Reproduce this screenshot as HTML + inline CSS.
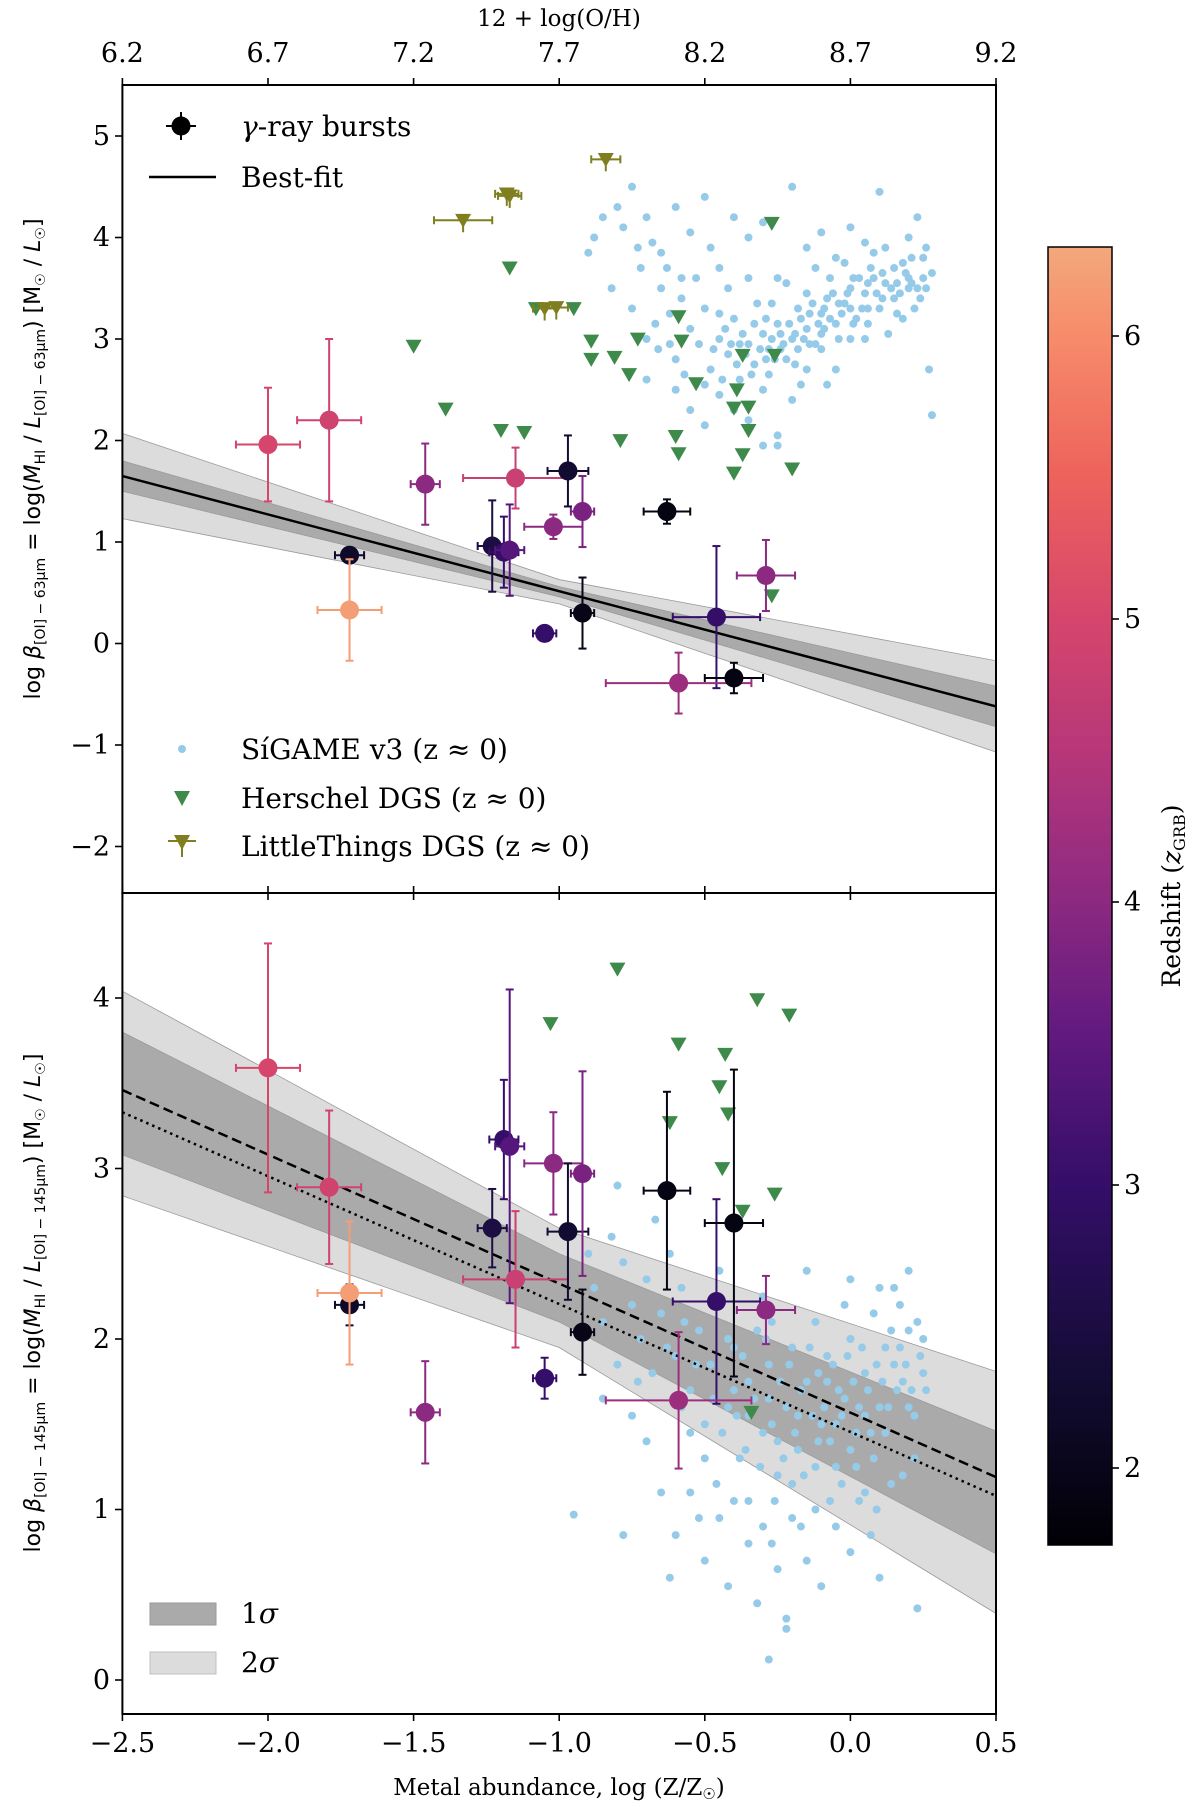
<!DOCTYPE html>
<html><head><meta charset="utf-8"><style>
html,body{margin:0;padding:0;background:#fff;}
svg{display:block;font-family:"DejaVu Serif","Liberation Serif",serif;}
</style></head><body>
<svg id="fig" width="1200" height="1807" viewBox="0 0 1200 1807" xmlns="http://www.w3.org/2000/svg">
<defs>
<linearGradient id="magma" x1="0" y1="1" x2="0" y2="0"></linearGradient>
<clipPath id="clipTop"><rect x="122" y="85" width="874" height="808"/></clipPath>
<clipPath id="clipBot"><rect x="122" y="893" width="874" height="821"/></clipPath>
</defs>
<g id="topPanel" clip-path="url(#clipTop)"></g>
<g id="botPanel" clip-path="url(#clipBot)"></g>
<g id="axes"></g>
<g id="cbar"></g>

<g font-family="DejaVu Serif, Liberation Serif, serif">
<text x="559" y="26" font-size="23" text-anchor="middle">12 + log(O/H)</text>
<text x="559" y="1795" font-size="23" text-anchor="middle">Metal abundance, log (Z/Z<tspan font-size="15" dy="4">☉</tspan><tspan dy="-4">)</tspan></text>
<text transform="translate(40,459) rotate(-90)" font-size="22" text-anchor="middle" font-family="DejaVu Sans, Liberation Sans, sans-serif">log <tspan font-style="italic">β</tspan><tspan font-size="14" dy="5">[OI] − 63μm</tspan><tspan dy="-5"> = log(</tspan><tspan font-style="italic">M</tspan><tspan font-size="14" dy="5">HI</tspan><tspan dy="-5"> / </tspan><tspan font-style="italic">L</tspan><tspan font-size="14" dy="5">[OI] − 63μm</tspan><tspan dy="-5">)   [M</tspan><tspan font-size="14" dy="5">☉</tspan><tspan dy="-5"> / </tspan><tspan font-style="italic">L</tspan><tspan font-size="14" dy="5">☉</tspan><tspan dy="-5">]</tspan></text>
<text transform="translate(40,1303) rotate(-90)" font-size="22" text-anchor="middle" font-family="DejaVu Sans, Liberation Sans, sans-serif">log <tspan font-style="italic">β</tspan><tspan font-size="14" dy="5">[OI] − 145μm</tspan><tspan dy="-5"> = log(</tspan><tspan font-style="italic">M</tspan><tspan font-size="14" dy="5">HI</tspan><tspan dy="-5"> / </tspan><tspan font-style="italic">L</tspan><tspan font-size="14" dy="5">[OI] − 145μm</tspan><tspan dy="-5">)   [M</tspan><tspan font-size="14" dy="5">☉</tspan><tspan dy="-5"> / </tspan><tspan font-style="italic">L</tspan><tspan font-size="14" dy="5">☉</tspan><tspan dy="-5">]</tspan></text>
<text transform="translate(1180,896) rotate(-90)" font-size="25" text-anchor="middle">Redshift (<tspan font-style="italic">z</tspan><tspan font-size="16" dy="5">GRB</tspan><tspan dy="-5">)</tspan></text>
</g>
<g font-family="DejaVu Serif, Liberation Serif, serif" font-size="28">
<g>
<line x1="166" y1="126" x2="196" y2="126" stroke="#000" stroke-width="2"/><line x1="181" y1="112" x2="181" y2="140" stroke="#000" stroke-width="2"/><circle cx="181" cy="126" r="9.5" fill="#000"/>
<text x="241" y="136"><tspan font-style="italic">γ</tspan>-ray bursts</text></g>
<g><line x1="149" y1="177" x2="216" y2="177" stroke="#000" stroke-width="2.5"/><text x="241" y="187">Best-fit</text></g>
<g><circle cx="182" cy="749" r="4" fill="#95cbe9"/><text x="241" y="759">SíGAME v3 (z ≈ 0)</text></g>
<g><polygon points="174,791 190,791 182,806" fill="#3e8a4a"/><text x="241" y="808">Herschel DGS (z ≈ 0)</text></g>
<g><line x1="168" y1="841" x2="196" y2="841" stroke="#7f7f1f" stroke-width="2"/><line x1="182" y1="841" x2="182" y2="857" stroke="#7f7f1f" stroke-width="2"/><polygon points="174,835 190,835 182,850" fill="#7f7f1f"/><text x="241" y="856">LittleThings DGS (z ≈ 0)</text></g>
</g>
<g font-family="DejaVu Serif, Liberation Serif, serif" font-size="28">
<g><rect x="150" y="1603" width="66" height="22" fill="#aaaaaa" stroke="#9a9a9a"/><text x="241" y="1623">1<tspan font-style="italic">σ</tspan></text></g>
<g><rect x="150" y="1652" width="66" height="22" fill="#dcdcdc" stroke="#c0c0c0"/><text x="241" y="1672">2<tspan font-style="italic">σ</tspan></text></g>
</g>
</svg>
<script>
// ---------- data ----------
const grbX = [-2.0,-1.79,-1.72,-1.72,-1.46,-1.23,-1.19,-1.17,-1.15,-1.02,-0.97,-0.92,-1.05,-0.92,-0.63,-0.46,-0.59,-0.40,-0.29];
const grbZ = [5.0,4.9,2.2,6.2,4.0,2.5,3.0,3.4,4.8,4.0,2.3,3.8,3.0,1.95,1.9,3.0,4.2,1.9,4.0];
const grbXerr = [0.11,0.11,0.05,0.11,0.05,0.05,0.05,0.05,0.18,0.1,0.07,0.04,0.04,0.04,0.08,0.15,0.25,0.1,0.1];
const topY = [1.96,2.2,0.87,0.33,1.57,0.96,0.9,0.92,1.63,1.15,1.70,1.30,0.10,0.30,1.30,0.26,-0.39,-0.34,0.67];
const topYerr = [0.56,0.8,0.06,0.5,0.4,0.45,0.35,0.45,0.3,0.12,0.35,0.35,0.06,0.35,0.12,0.7,0.3,0.15,0.35];
const botY = [3.59,2.89,2.2,2.27,1.57,2.65,3.17,3.13,2.35,3.03,2.63,2.97,1.77,2.04,2.87,2.22,1.64,2.68,2.17];
const botYerr = [0.73,0.45,0.12,0.42,0.3,0.23,0.35,0.92,0.4,0.3,0.4,0.6,0.12,0.25,0.58,0.6,0.4,0.9,0.2];

const herTopX = [-1.5,-1.39,-1.17,-1.2,-1.12,-1.08,-0.95,-0.89,-0.89,-0.81,-0.79,-0.73,-0.76,-0.59,-0.58,-0.6,-0.59,-0.53,-0.39,-0.4,-0.37,-0.35,-0.37,-0.4,-0.35,-0.27,-0.26,-0.2,-0.27];
const herTopY = [2.93,2.31,3.70,2.1,2.08,3.3,3.3,2.8,2.98,2.82,2.0,3.0,2.65,3.22,2.98,2.04,1.87,2.56,2.5,2.32,2.84,2.33,1.86,1.68,2.1,4.14,2.84,1.72,0.47];
const ltX = [-1.33,-1.17,-1.18,-1.05,-1.01,-0.84];
const ltY = [4.17,4.41,4.43,3.3,3.31,4.77];
const ltXerr = [0.1,0.04,0.04,0.04,0.04,0.05];
const herBotX = [-1.03,-0.8,-0.59,-0.43,-0.45,-0.42,-0.44,-0.37,-0.26,-0.32,-0.21,-0.62,-0.34];
const herBotY = [3.85,4.17,3.73,3.67,3.48,3.32,3.0,2.75,2.85,3.99,3.90,3.27,1.57];

const sgTop = [[-0.75,4.5],[-0.78,4.1],[-0.7,4.2],[-0.68,3.95],[-0.72,3.7],[-0.65,3.85],[-0.6,4.3],[-0.55,4.05],[-0.58,3.6],[-0.5,4.4],[-0.48,3.9],[-0.45,3.7],[-0.4,4.2],[-0.35,4.0],[-0.3,4.15],[-0.25,3.6],[-0.2,4.5],[-0.15,3.9],[-0.1,4.05],[-0.05,3.8],[0,4.1],[0.05,3.95],[0.1,4.45],[0.15,3.7],[0.2,4.0],[0.25,3.8],[0.28,3.65],[-0.85,4.2],[-0.9,3.85],[-0.82,3.5],[-0.75,3.3],[-0.7,3.0],[-0.66,2.9],[-0.62,3.25],[-0.6,2.8],[-0.55,3.1],[-0.52,2.95],[-0.5,3.3],[-0.48,2.7],[-0.45,3.0],[-0.42,2.85],[-0.4,3.2],[-0.38,2.6],[-0.35,2.95],[-0.33,2.75],[-0.3,3.05],[-0.28,2.9],[-0.25,3.15],[-0.22,2.8],[-0.2,3.0],[-0.18,3.3],[-0.15,3.1],[-0.12,2.95],[-0.1,3.25],[-0.08,3.4],[-0.05,3.15],[-0.02,3.35],[0,3.5],[0.02,3.2],[0.05,3.45],[0.08,3.6],[0.1,3.3],[0.12,3.55],[0.15,3.4],[0.18,3.75],[0.2,3.5],[0.22,3.3],[0.25,3.6],[0.27,2.7],[0.28,2.25],[-0.6,2.5],[-0.55,2.3],[-0.5,2.15],[-0.45,2.45],[-0.4,2.3],[-0.35,2.2],[-0.3,2.5],[-0.25,2.05],[-0.2,2.4],[-0.15,2.7],[-0.1,2.9],[-0.05,2.7],[0,3.0],[0.05,3.0],[-0.65,3.5],[-0.58,3.4],[-0.42,3.5],[-0.32,3.35],[-0.22,3.55],[-0.12,3.7],[-0.02,3.75],[0.08,3.85],[0.18,3.2],[-0.7,2.6],[-0.35,3.6],[-0.27,3.35],[-0.17,2.55],[-0.08,2.55],[0.03,3.6],[0.13,3.05],[0.23,4.2],[-0.45,3.25],[-0.38,2.95],[-0.28,2.65],[-0.18,2.9],[-0.1,3.05],[-0.03,3.25],[0.06,3.3],[0.16,3.55],[0.24,3.4],[-0.3,1.95],[-0.25,1.95],[0.12,3.9],[0.2,3.6],[-0.07,3.6],[0.0,3.3],[-0.15,3.45],
[-0.43,3.1],[-0.41,2.95],[-0.37,3.05],[-0.36,2.85],[-0.33,3.15],[-0.31,2.9],[-0.29,3.2],[-0.27,3.0],[-0.26,2.8],[-0.24,3.05],[-0.23,2.95],[-0.21,3.15],[-0.19,3.05],[-0.17,3.2],[-0.16,3.0],[-0.14,3.25],[-0.13,3.35],[-0.11,3.15],[-0.09,3.3],[-0.07,3.2],[-0.06,3.45],[-0.04,3.35],[-0.01,3.45],[0.01,3.6],[0.04,3.3],[0.06,3.55],[0.07,3.7],[0.09,3.45],[0.11,3.65],[0.14,3.5],[0.17,3.45],[0.19,3.65],[0.21,3.8],[0.23,3.5],[0.26,3.9],[-0.53,3.6],[-0.63,3.7],[-0.73,3.9],[-0.8,4.3],[-0.88,4.0],[-0.5,2.55],[-0.47,2.9],[-0.44,2.6],[-0.39,2.75],[-0.34,2.65],[-0.29,2.8],[-0.24,2.9],[-0.19,2.75],[-0.14,2.95],[-0.09,3.1],[-0.04,3.0],[0.01,3.15],[0.06,3.15],[0.11,3.4],[0.16,3.25],[0.21,3.55],[0.26,3.5],[-0.57,2.65],[-0.62,2.95],[-0.67,3.15]];
const sgBot = [[-0.95,0.97],[-0.9,2.5],[-0.88,2.3],[-0.85,2.1],[-0.82,2.6],[-0.8,2.9],[-0.78,2.45],[-0.75,2.2],[-0.72,2.0],[-0.7,2.35],[-0.68,1.8],[-0.65,2.15],[-0.62,2.5],[-0.6,1.9],[-0.58,2.3],[-0.55,1.7],[-0.52,2.05],[-0.5,1.5],[-0.48,1.85],[-0.45,2.2],[-0.42,1.6],[-0.4,1.95],[-0.38,1.3],[-0.35,1.75],[-0.32,2.05],[-0.3,1.45],[-0.28,1.85],[-0.25,1.2],[-0.22,1.6],[-0.2,1.95],[-0.18,1.35],[-0.15,1.75],[-0.12,2.1],[-0.1,1.5],[-0.08,1.9],[-0.05,1.25],[-0.02,1.65],[0,2.0],[0.02,1.45],[0.05,1.8],[0.08,2.15],[0.1,1.6],[0.12,1.95],[0.15,2.3],[0.18,1.75],[0.2,2.05],[0.22,1.55],[0.24,1.9],[0.26,1.7],[-0.6,0.85],[-0.55,1.1],[-0.5,0.7],[-0.45,0.95],[-0.42,0.55],[-0.4,1.05],[-0.35,0.8],[-0.32,0.45],[-0.3,0.9],[-0.28,0.12],[-0.25,0.65],[-0.22,0.3],[-0.22,0.36],[-0.2,0.95],[-0.15,0.7],[-0.12,1.0],[-0.1,0.55],[-0.05,0.9],[0,0.75],[0.05,1.1],[0.1,0.6],[0.23,0.42],[-0.7,1.4],[-0.65,1.1],[-0.75,1.55],[-0.8,1.85],[-0.85,1.65],[-0.67,2.7],[-0.45,2.4],[-0.3,2.25],[-0.15,2.4],[0,2.35],[0.1,2.3],[0.2,2.4],[-0.5,1.3],[-0.35,1.55],[-0.25,1.4],[-0.12,1.25],[0,1.35],[0.08,1.3],[0.18,1.2],[-0.58,1.6],[-0.4,1.7],[-0.18,1.55],[-0.05,1.5],[0.12,1.45],[0.25,2.0],[-0.62,0.6],[-0.78,0.85],[-0.42,2.0],[-0.28,1.65],[-0.08,1.75],[0.05,1.55],[0.15,1.85],[-0.55,1.45],[-0.2,1.15],[0.03,1.05],
[-0.37,1.9],[-0.33,1.65],[-0.29,2.0],[-0.27,1.5],[-0.24,1.75],[-0.21,1.85],[-0.19,1.45],[-0.17,1.7],[-0.14,1.95],[-0.13,1.55],[-0.11,1.8],[-0.09,1.6],[-0.07,1.4],[-0.06,1.85],[-0.04,1.7],[-0.03,1.55],[-0.01,1.9],[0.01,1.75],[0.03,1.6],[0.04,1.95],[0.06,1.7],[0.07,1.45],[0.09,1.85],[0.11,1.75],[0.13,1.6],[0.14,2.05],[0.16,1.7],[0.17,1.95],[0.19,1.85],[0.21,1.7],[0.23,2.1],[0.25,1.8],[-0.53,1.85],[-0.47,1.65],[-0.44,1.45],[-0.39,1.55],[-0.36,1.35],[-0.31,1.25],[-0.26,1.05],[-0.23,1.3],[-0.16,1.2],[-0.11,1.4],[-0.03,1.15],[0.02,1.25],[0.09,1.0],[0.14,1.15],[0.2,1.6],[-0.57,2.1],[-0.63,1.95],[-0.73,1.75],[-0.35,1.05],[-0.27,0.8],[-0.17,0.9],[-0.07,1.05],[0.07,0.85],[-0.46,1.15],[-0.52,0.95],[0.17,2.2],[0.22,1.3],[-0.02,2.2],[-0.27,2.1]];

const fitX = [-2.5,-1.0,0.5];
const topFit = [1.65,0.51,-0.62];
const top1s = [0.15,0.05,0.2];
const top2s = [0.42,0.12,0.45];
const botCenter = [3.44,2.3,1.1];
const bot1s = [0.36,0.2,0.36];
const bot2s = [0.6,0.35,0.71];
const botDash = [3.46,1.19];
const botDot = [3.33,1.08];

const xTicks = [-2.5,-2.0,-1.5,-1.0,-0.5,0.0,0.5];
const xTickLabels = ["\u22122.5","\u22122.0","\u22121.5","\u22121.0","\u22120.5","0.0","0.5"];
const ohTickLabels = ["6.2","6.7","7.2","7.7","8.2","8.7","9.2"];
const topYTicks = [-2,-1,0,1,2,3,4,5];
const botYTicks = [0,1,2,3,4];
const cbTicks = [2,3,4,5,6];

// ---------- scales ----------
const X = v => 122.4 + (v + 2.5) * 291.2;
const YT = v => 643.5 - v * 101.5;
const YB = v => 1680 - v * 170.5;
const ZMIN = 1.73, ZMAX = 6.31;
const CBT = 247, CBB = 1545;
const CY = z => 1468 - (z - 2) * 283;
const NS = "http://www.w3.org/2000/svg";
// colormap stops keyed by redshift
const cmStops = [[1.73,[0,0,4]],[2.3,[18,12,50]],[3.0,[52,14,105]],[3.5,[95,24,127]],[4.0,[140,41,129]],[4.5,[181,54,122]],[5.0,[214,70,108]],[5.5,[238,98,92]],[6.0,[246,140,106]],[6.31,[243,168,124]]];
function zcol(z){
  const zz = Math.max(ZMIN, Math.min(ZMAX, z));
  for (let i = 1; i < cmStops.length; i++) {
    if (zz <= cmStops[i][0]) {
      const a = cmStops[i-1], b = cmStops[i];
      const f = (zz - a[0]) / (b[0] - a[0]);
      const c = a[1].map((v,k) => Math.round(v + (b[1][k]-v)*f));
      return `rgb(${c[0]},${c[1]},${c[2]})`;
    }
  }
  return "rgb(243,168,124)";
}
function mk(tag, attrs, parent, text){
  const e = document.createElementNS(NS, tag);
  for (const k in attrs) e.setAttribute(k, attrs[k]);
  if (text !== undefined) e.textContent = text;
  parent.appendChild(e);
  return e;
}
const grad = document.getElementById('magma');
cmStops.forEach(s => {
  mk('stop', {offset: (s[0]-ZMIN)/(ZMAX-ZMIN), 'stop-color': `rgb(${s[1][0]},${s[1][1]},${s[1][2]})`}, grad);
});
const topG = document.getElementById('topPanel');
const botG = document.getElementById('botPanel');
const axesG = document.getElementById('axes');
const cbarG = document.getElementById('cbar');

function band(parent, center, half, Y, fill, name){
  const pts = [];
  for (let i = 0; i < fitX.length; i++) pts.push(X(fitX[i]) + ',' + Y(center[i] + half[i]));
  for (let i = fitX.length - 1; i >= 0; i--) pts.push(X(fitX[i]) + ',' + Y(center[i] - half[i]));
  const p = mk('polygon', {points: pts.join(' '), fill: fill, stroke: '#9a9a9a', 'stroke-width': 0.8}, parent);
  
  
}
function sigame(parent, pts, Y){
  pts.forEach(p => {
    const c = mk('circle', {cx: X(p[0]), cy: Y(p[1]), r: 4, fill: '#95cbe9'}, parent);
    
    
  });
}
function tri(parent, x, y, fill, s){
  return mk('polygon', {points: `${x-s},${y-s*0.8} ${x+s},${y-s*0.8} ${x},${y+s*0.95}`, fill: fill}, parent);
}
function grbs(parent, Y, ys, yerr){
  for (let i = 0; i < grbX.length; i++){
    const g = mk('g', {}, parent);
    
    
    const col = zcol(grbZ[i]);
    const cx = X(grbX[i]), cy = Y(ys[i]);
    const x1 = X(grbX[i]-grbXerr[i]), x2 = X(grbX[i]+grbXerr[i]);
    const y1 = Y(ys[i]+yerr[i]), y2 = Y(ys[i]-yerr[i]);
    mk('line', {x1:x1,y1:cy,x2:x2,y2:cy,stroke:col,'stroke-width':2}, g);
    mk('line', {x1:cx,y1:y1,x2:cx,y2:y2,stroke:col,'stroke-width':2}, g);
    [[x1,cy-4,x1,cy+4],[x2,cy-4,x2,cy+4],[cx-4,y1,cx+4,y1],[cx-4,y2,cx+4,y2]].forEach(l=>mk('line',{x1:l[0],y1:l[1],x2:l[2],y2:l[3],stroke:col,'stroke-width':2},g));
    mk('circle', {cx:cx, cy:cy, r:9.5, fill:col}, g);
  }
}

// ---- top panel ----
band(topG, topFit, top2s, YT, '#dcdcdc', 'top-2sigma-band');
band(topG, topFit, top1s, YT, '#aaaaaa', 'top-1sigma-band');
sigame(topG, sgTop, YT);
for (let i = 0; i < herTopX.length; i++){
  const t = tri(topG, X(herTopX[i]), YT(herTopY[i]), '#3e8a4a', 8);
  
  
}
for (let i = 0; i < ltX.length; i++){
  const g = mk('g', {}, topG);
  
  
  const cx = X(ltX[i]), cy = YT(ltY[i]);
  const xa = X(ltX[i]-ltXerr[i]), xb = X(ltX[i]+ltXerr[i]);
  mk('line',{x1:xa,y1:cy,x2:xb,y2:cy,stroke:'#7f7f1f','stroke-width':2},g);
  mk('line',{x1:xa,y1:cy-4,x2:xa,y2:cy+4,stroke:'#7f7f1f','stroke-width':2},g);
  mk('line',{x1:xb,y1:cy-4,x2:xb,y2:cy+4,stroke:'#7f7f1f','stroke-width':2},g);
  mk('line',{x1:cx,y1:cy,x2:cx,y2:cy+12,stroke:'#7f7f1f','stroke-width':2},g);
  tri(g, cx, cy, '#7f7f1f', 8);
}
const bf = mk('line', {x1:X(fitX[0]),y1:YT(topFit[0]),x2:X(fitX[2]),y2:YT(topFit[2]),stroke:'#000','stroke-width':2.5}, topG);


grbs(topG, YT, topY, topYerr);

// ---- bottom panel ----
band(botG, botCenter, bot2s, YB, '#dcdcdc', 'bottom-2sigma-band');
band(botG, botCenter, bot1s, YB, '#aaaaaa', 'bottom-1sigma-band');
sigame(botG, sgBot, YB);
for (let i = 0; i < herBotX.length; i++){
  const t = tri(botG, X(herBotX[i]), YB(herBotY[i]), '#3e8a4a', 8);
  
  
}
const dl = mk('line', {x1:X(-2.5),y1:YB(botDash[0]),x2:X(0.5),y2:YB(botDash[1]),stroke:'#000','stroke-width':2.5,'stroke-dasharray':'10,5'}, botG);


const dt = mk('line', {x1:X(-2.5),y1:YB(botDot[0]),x2:X(0.5),y2:YB(botDot[1]),stroke:'#000','stroke-width':2.5,'stroke-dasharray':'2.5,4'}, botG);


grbs(botG, YB, botY, botYerr);

// ---- axes frames ----
[[85,893],[893,1714]].forEach((r,i)=>{
  const f = mk('rect', {x:122.4,y:r[0],width:873.6,height:r[1]-r[0],fill:'none',stroke:'#000','stroke-width':2}, axesG);
  
  
});
xTicks.forEach((v,i)=>{
  const x = X(v);
  mk('line',{x1:x,y1:1714,x2:x,y2:1721,stroke:'#000','stroke-width':1.6},axesG);
  mk('line',{x1:x,y1:893,x2:x,y2:900,stroke:'#000','stroke-width':1.6},axesG);
  mk('line',{x1:x,y1:893,x2:x,y2:886,stroke:'#000','stroke-width':1.6},axesG);
  mk('line',{x1:x,y1:85,x2:x,y2:78,stroke:'#000','stroke-width':1.6},axesG);
  const t = mk('text',{x:x,y:1752,'font-size':27,'text-anchor':'middle'},axesG,xTickLabels[i]);
  
  
  const t2 = mk('text',{x:x,y:62,'font-size':27,'text-anchor':'middle'},axesG,ohTickLabels[i]);
  
  
});
topYTicks.forEach(v=>{
  const y = YT(v);
  mk('line',{x1:122,y1:y,x2:115,y2:y,stroke:'#000','stroke-width':1.6},axesG);
  const t = mk('text',{x:110,y:y+9,'font-size':27,'text-anchor':'end'},axesG,v<0?'\u2212'+(-v):String(v));
  
  
});
botYTicks.forEach(v=>{
  const y = YB(v);
  mk('line',{x1:122,y1:y,x2:115,y2:y,stroke:'#000','stroke-width':1.6},axesG);
  const t = mk('text',{x:110,y:y+9,'font-size':27,'text-anchor':'end'},axesG,String(v));
  
  
});

// ---- colorbar ----
const cb = mk('rect',{x:1048,y:CBT,width:64,height:CBB-CBT,fill:'url(#magma)',stroke:'#000','stroke-width':1.5},cbarG);


cbTicks.forEach(z=>{
  const y = CY(z);
  mk('line',{x1:1112,y1:y,x2:1119,y2:y,stroke:'#000','stroke-width':1.6},cbarG);
  const t = mk('text',{x:1124,y:y+9,'font-size':27},cbarG,String(z));
  
  
});
</script>
</body></html>
